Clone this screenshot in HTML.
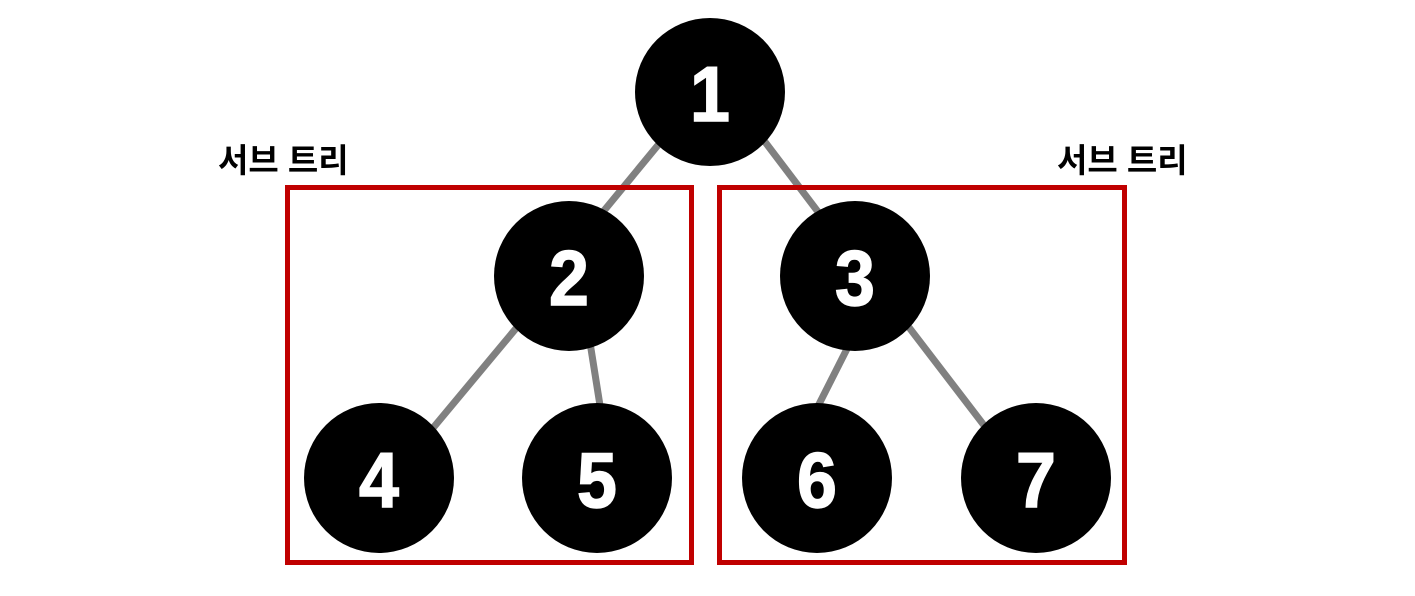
<!DOCTYPE html>
<html><head><meta charset="utf-8"><style>
html,body{margin:0;padding:0;background:#fff;width:1415px;height:596px;overflow:hidden}
</style></head><body>
<svg width="1415" height="596" viewBox="0 0 1415 596" xmlns="http://www.w3.org/2000/svg">
<g stroke="#808080" stroke-width="7" stroke-linecap="butt">
<line x1="668" y1="133" x2="593" y2="224"/>
<line x1="756" y1="130" x2="828" y2="225"/>
<line x1="528" y1="314" x2="423" y2="440"/>
<line x1="588" y1="330" x2="602" y2="418"/>
<line x1="853" y1="337" x2="811" y2="420"/>
<line x1="898" y1="313" x2="996" y2="441"/>
</g>
<g fill="none" stroke="#c00000" stroke-width="5">
<rect x="287.5" y="187.5" width="404" height="375"/>
<rect x="719.5" y="187.5" width="405" height="375"/>
</g>
<g fill="#000">
<ellipse cx="710" cy="92" rx="75" ry="74"/>
<ellipse cx="569" cy="276" rx="75" ry="75"/>
<ellipse cx="855" cy="276" rx="75" ry="75"/>
<ellipse cx="379" cy="478" rx="75" ry="75"/>
<ellipse cx="597" cy="478" rx="75" ry="75"/>
<ellipse cx="817" cy="478" rx="75" ry="75"/>
<ellipse cx="1036" cy="478" rx="75" ry="75"/>
</g>
<g fill="#fff" font-family="Liberation Sans, sans-serif" font-weight="bold" font-size="78" text-anchor="middle" stroke="#fff" stroke-width="1.5">
<text x="710" y="92" dy="29" transform="translate(710 0) scale(0.92 1) translate(-710 0)">1</text>
<text x="569" y="276" dy="29" transform="translate(569 0) scale(0.92 1) translate(-569 0)">2</text>
<text x="855" y="276" dy="29" transform="translate(855 0) scale(0.92 1) translate(-855 0)">3</text>
<text x="379" y="478" dy="29" transform="translate(379 0) scale(0.92 1) translate(-379 0)">4</text>
<text x="597" y="478" dy="29" transform="translate(597 0) scale(0.92 1) translate(-597 0)">5</text>
<text x="817" y="478" dy="29" transform="translate(817 0) scale(0.92 1) translate(-817 0)">6</text>
<text x="1036" y="478" dy="29" transform="translate(1036 0) scale(0.92 1) translate(-1036 0)">7</text>
</g>
<g fill="#000" font-family="Liberation Sans, 'Noto Sans CJK KR', sans-serif" font-weight="bold" font-size="33">
<text x="218" y="172">서브 트리</text>
<text x="1057" y="172">서브 트리</text>
</g>
</svg>
</body></html>
